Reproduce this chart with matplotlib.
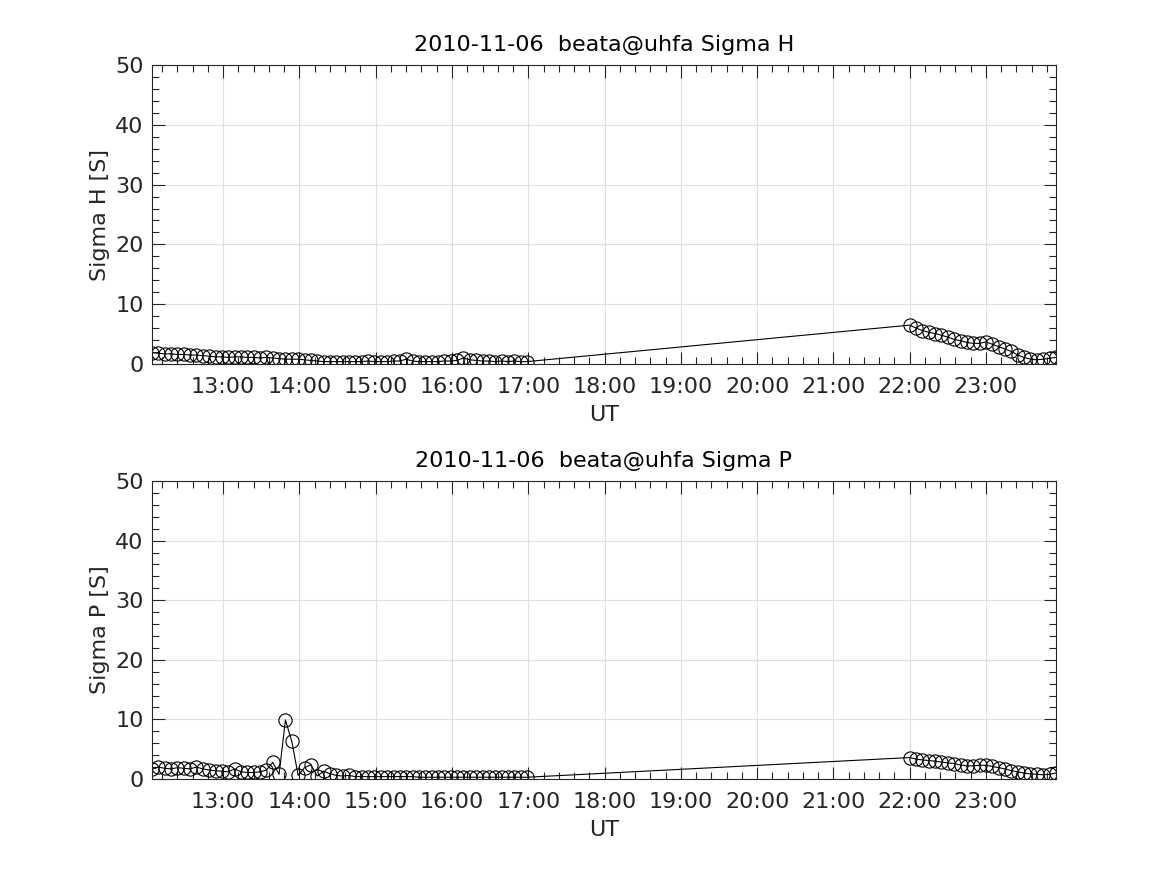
import numpy as np
import pandas as pd
import matplotlib
matplotlib.use("Agg")
import matplotlib.pyplot as plt
import matplotlib.dates as mdates

# sample times: 5 min cadence, two recording blocks
t_a = pd.date_range("2010-11-06 12:04", periods=60, freq="5min")
t_b = pd.date_range("2010-11-06 22:00", periods=24, freq="5min")

sigma_h_a = [1.9, 1.8, 1.7, 1.7, 1.6, 1.6, 1.5, 1.5, 1.4, 1.3,
             1.2, 1.2, 1.1, 1.2, 1.2, 1.1, 1.1, 1.0, 1.1, 1.0,
             0.9, 0.8, 0.8, 0.8, 0.7, 0.6, 0.5, 0.4, 0.4, 0.4,
             0.4, 0.4, 0.4, 0.4, 0.5, 0.4, 0.4, 0.4, 0.5, 0.5,
             0.8, 0.5, 0.4, 0.4, 0.4, 0.4, 0.5, 0.5, 0.6, 1.0,
             0.7, 0.6, 0.5, 0.5, 0.4, 0.5, 0.4, 0.5, 0.4, 0.4]
sigma_h_b = [6.5, 6.0, 5.6, 5.3, 5.1, 4.8, 4.5, 4.1, 3.9, 3.6,
             3.45, 3.45, 3.7, 3.3, 2.9, 2.5, 2.1, 1.5, 1.1, 0.8,
             0.7, 0.8, 0.95, 1.1]

sigma_p_a = [1.6, 2.0, 1.8, 1.7, 1.9, 1.8, 1.7, 2.0, 1.7, 1.5,
             1.4, 1.3, 1.2, 1.7, 1.2, 1.1, 1.1, 1.2, 1.5, 2.8,
             0.8, 9.9, 6.3, 0.6, 1.9, 2.4, 0.5, 1.3, 0.9, 0.6,
             0.5, 0.6, 0.4, 0.4, 0.4, 0.4, 0.4, 0.4, 0.4, 0.4,
             0.4, 0.4, 0.3, 0.3, 0.3, 0.3, 0.3, 0.3, 0.3, 0.3,
             0.3, 0.3, 0.3, 0.3, 0.3, 0.3, 0.3, 0.3, 0.3, 0.3]
sigma_p_b = [3.6, 3.35, 3.2, 3.1, 3.0, 2.85, 2.7, 2.6, 2.35, 2.2,
             2.2, 2.3, 2.3, 2.1, 1.9, 1.7, 1.4, 1.2, 1.0, 0.85,
             0.8, 0.7, 0.8, 1.0]

times = list(t_a) + list(t_b)
panels = [
    ("2010-11-06  beata@uhfa Sigma H", "Sigma H [S]", sigma_h_a + sigma_h_b),
    ("2010-11-06  beata@uhfa Sigma P", "Sigma P [S]", sigma_p_a + sigma_p_b),
]

fig = plt.figure(figsize=(11.67, 8.75), dpi=100)
positions = [[0.1302, 0.584, 0.7746, 0.3417], [0.1302, 0.1097, 0.7746, 0.3406]]
txt = '#262626'

for pos, (title, ylab, vals) in zip(positions, panels):
    ax = fig.add_axes(pos)
    ax.plot(times, vals, '-o', color='black', mfc='none', ms=9.5, mew=0.8, lw=0.8)
    ax.set_xlim(times[0], times[-1])
    ax.set_ylim(0, 50)
    ax.set_yticks([0, 10, 20, 30, 40, 50])
    ax.yaxis.set_minor_locator(matplotlib.ticker.MultipleLocator(2))
    ax.xaxis.set_major_locator(mdates.HourLocator())
    ax.xaxis.set_minor_locator(mdates.MinuteLocator(byminute=[0, 12, 24, 36, 48]))
    ax.xaxis.set_major_formatter(mdates.DateFormatter('%H:%M'))
    ax.grid(True, which='major', color='#e0e0e0', lw=0.8)
    ax.set_axisbelow(True)
    ax.tick_params(direction='in', which='major', length=9, width=0.8,
                   top=True, right=True, labelsize=16, labelcolor=txt, color=txt)
    ax.tick_params(direction='in', which='minor', length=5, width=0.8,
                   top=True, right=True, color=txt)
    ax.tick_params(axis='x', pad=9)
    ax.tick_params(axis='y', pad=6)
    for s in ax.spines.values():
        s.set_linewidth(0.8)
        s.set_color(txt)
    ax.set_title(title, fontsize=16, color='black', pad=10)
    ax.set_xlabel('UT', fontsize=16, color=txt, labelpad=6)
    ax.set_ylabel(ylab, fontsize=16, color=txt, labelpad=4)

fig.savefig('out.png', dpi=100)
